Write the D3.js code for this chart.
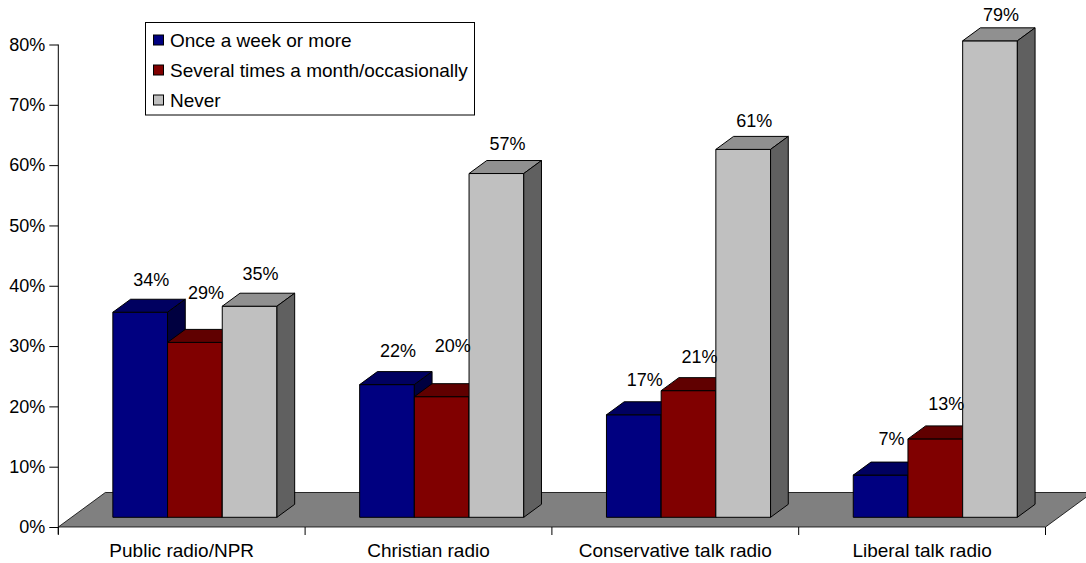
<!DOCTYPE html>
<html>
<head>
<meta charset="utf-8">
<script src="https://cdn.jsdelivr.net/npm/d3@7"></script>
<style>
  body { margin: 0; background: #fff; }
  text { font-family: "Liberation Sans", Arial, sans-serif; fill: #000; }
</style>
</head>
<body>
<div class="chart"></div>
<script>
const categories = ["Public radio/NPR", "Christian radio", "Conservative talk radio", "Liberal talk radio"];
const seriesNames = ["Once a week or more", "Several times a month/occasionally", "Never"];
const weekly = [34, 22, 17, 7];
const occasionally = [29, 20, 21, 13];
const never = [35, 57, 61, 79];
const yTicks = [0, 10, 20, 30, 40, 50, 60, 70, 80];

const seriesValues = [weekly, occasionally, never];
const fills = ["#000080", "#800000", "#c0c0c0"];
const tops = ["#000060", "#600000", "#909090"];
const sides = ["#000040", "#400000", "#606060"];

const width = 1086, height = 563;

const svg = d3.select(".chart")
    .append("svg")
    .attr("width", width)
    .attr("height", height);

// category bands along the front edge of the floor
const x0 = d3.scaleBand()
    .domain(categories)
    .range([58.3, 1045.5])
    .padding(0);

const x1 = d3.scaleBand()
    .domain(seriesNames)
    .range([0, x0.bandwidth()])
    .paddingInner(0)
    .paddingOuter(0.756);

const y = d3.scaleLinear()
    .domain([0, 80])
    .range([527, 44.5]);

// depth vector of the floor (full depth)
const depthX = 47, depthY = -34.5;
const front = 0.281, back = 0.658;
const px = (x, d) => x + d * depthX;
const py = (v, d) => y(v) + d * depthY;

// floor
const [fx0, fx1] = x0.range();
svg.append("polygon")
    .attr("points", [
        [fx0, y(0)], [fx1, y(0)],
        [px(fx1, 1), py(0, 1)], [px(fx0, 1), py(0, 1)]
    ].map(p => p.join(",")).join(" "))
    .attr("fill", "#808080")
    .attr("stroke", "#000")
    .attr("stroke-width", 0.8);

// y axis
const yAxis = svg.append("g")
    .attr("transform", `translate(${fx0},0)`)
    .call(d3.axisLeft(y).tickValues(yTicks).tickFormat(d => d + "%").tickSize(9).tickSizeOuter(0).tickPadding(4));
yAxis.select(".domain").remove();
yAxis.append("line")
    .attr("x1", 0).attr("x2", 0)
    .attr("y1", y(80)).attr("y2", y(0) + 7)
    .attr("stroke", "#000");
yAxis.selectAll(".tick line").attr("stroke", "#000");
yAxis.selectAll(".tick text")
    .style("font-size", "18px")
    .style("font-family", "'Liberation Sans', Arial, sans-serif")
    .attr("fill", "#000");

// category ticks at band boundaries
const bounds = categories.map(c => x0(c)).concat([fx1]);
svg.selectAll(".cat-tick")
    .data(bounds)
    .join("line")
    .attr("class", "cat-tick")
    .attr("x1", d => d).attr("x2", d => d)
    .attr("y1", y(0)).attr("y2", y(0) + 8)
    .attr("stroke", "#000");

svg.selectAll(".cat-label")
    .data(categories)
    .join("text")
    .attr("class", "cat-label")
    .attr("x", d => x0(d) + x0.bandwidth() / 2)
    .attr("y", 556.5)
    .attr("text-anchor", "middle")
    .style("font-size", "19px")
    .text(d => d);

// bars: for each category, draw left to right
const bars = [];
categories.forEach((c, ci) => {
    seriesNames.forEach((s, si) => {
        const prev = si > 0 ? seriesValues[si - 1][ci] : 0;
        bars.push({ c, s, si, v: seriesValues[si][ci], prevTaller: prev > seriesValues[si][ci] });
    });
});

const poly = pts => pts.map(p => p.join(",")).join(" ");

bars.forEach(b => {
    const xl = x0(b.c) + x1(b.s);
    const xr = xl + x1.bandwidth();
    const g = svg.append("g");
    // front face
    g.append("polygon")
        .attr("points", poly([
            [px(xl, front), py(0, front)], [px(xr, front), py(0, front)],
            [px(xr, front), py(b.v, front)], [px(xl, front), py(b.v, front)]
        ]))
        .attr("fill", fills[b.si]).attr("stroke", "#000").attr("stroke-width", 1)
        .attr("stroke-linejoin", "round");
    // top face
    g.append("polygon")
        .attr("points", poly([
            [px(xl, front), py(b.v, front)], [px(xr, front), py(b.v, front)],
            [px(xr, back), py(b.v, back)], [px(xl, back), py(b.v, back)]
        ]))
        .attr("fill", tops[b.si]).attr("stroke", "#000").attr("stroke-width", 1)
        .attr("stroke-linejoin", "round");
    // right side
    g.append("polygon")
        .attr("points", poly([
            [px(xr, front), py(0, front)], [px(xr, back), py(0, back)],
            [px(xr, back), py(b.v, back)], [px(xr, front), py(b.v, front)]
        ]))
        .attr("fill", sides[b.si]).attr("stroke", "#000").attr("stroke-width", 1)
        .attr("stroke-linejoin", "round");
});

// value labels (lifted when the bar to the left is taller)
svg.selectAll(".val-label")
    .data(bars)
    .join("text")
    .attr("class", "val-label")
    .attr("x", d => px(x0(d.c) + x1(d.s) + x1.bandwidth() / 2, front) + 11)
    .attr("y", d => py(d.v, back) - (18 - 0.14 * d.v) - (d.prevTaller ? 16 : 0))
    .attr("text-anchor", "middle")
    .style("font-size", "18px")
    .text(d => d.v + "%");

// legend
const legend = svg.append("g").attr("transform", "translate(145.5,22.5)");
legend.append("rect")
    .attr("width", 329).attr("height", 92.5)
    .attr("fill", "#fff").attr("stroke", "#000").attr("stroke-width", 1);
const items = legend.selectAll(".item")
    .data(seriesNames)
    .join("g")
    .attr("class", "item")
    .attr("transform", (d, i) => `translate(8,${17.5 + i * 30})`);
items.append("rect")
    .attr("x", 0).attr("y", -5)
    .attr("width", 10).attr("height", 10)
    .attr("fill", (d, i) => fills[i])
    .attr("stroke", "#000").attr("stroke-width", 1);
items.append("text")
    .attr("x", 16.5).attr("y", 6.5)
    .style("font-size", "19px")
    .text(d => d);
</script>
</body>
</html>
